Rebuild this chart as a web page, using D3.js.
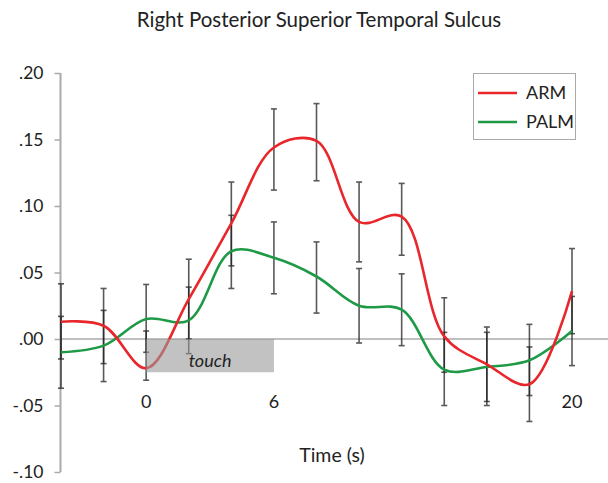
<!DOCTYPE html>
<html><head><meta charset="utf-8">
<script src="https://cdn.jsdelivr.net/npm/d3@7"></script>
<style>body{margin:0;background:#fff}svg{display:block}text{font-family:Lato,"Open Sans",sans-serif;fill:#222}</style>
</head><body><svg id="c" width="608" height="483"></svg>
<script>
const times = [-4,-2,0,2,4,6,8,10,12,14,16,18,20];
const arm   = [0.013,0.010,-0.022,0.030,0.087,0.144,0.149,0.088,0.092,0.002,-0.019,-0.034,0.036];
const armHi = [0.0415,0.038,0.006,0.060,0.118,0.173,0.177,0.118,0.117,0.031,0.009,-0.006,0.068];
const armLo = [-0.015,-0.0185,-0.031,0.000,0.055,0.112,0.119,0.058,0.063,-0.025,-0.047,-0.062,0.004];
const palm   = [-0.010,-0.005,0.015,0.014,0.066,0.061,0.047,0.025,0.022,-0.023,-0.021,-0.016,0.006];
const palmHi = [0.017,0.0215,0.041,0.039,0.093,0.088,0.073,0.053,0.049,0.005,0.005,0.011,0.032];
const palmLo = [-0.037,-0.032,-0.010,-0.011,0.038,0.034,0.0195,-0.003,-0.005,-0.050,-0.050,-0.0425,-0.020];
const yTicks = [0.20,0.15,0.10,0.05,0.00,-0.05,-0.10];
const xTicks = [0,6,20];
const touchRange = [0,6];
const touchDepth = -0.025;
const series = [
  {name:"ARM", color:"#e8262b", v:arm, hi:armHi, lo:armLo},
  {name:"PALM", color:"#1e9a47", v:palm, hi:palmHi, lo:palmLo}
];

const svg = d3.select("#c");
const x = d3.scaleLinear().domain([-4,20]).range([61,572]);
const y = d3.scaleLinear().domain([-0.1,0.2]).range([472,73]);
const fmt = v => { let s = d3.format(".2f")(Math.abs(v)).replace(/^0/,""); return (v<0?"-":"")+s; };

svg.append("text").attr("x",319).attr("y",27).attr("text-anchor","middle")
  .style("font-size","20.5px").text("Right Posterior Superior Temporal Sulcus");

// y axis
const ya = svg.append("g").attr("transform","translate(60.5,0)")
  .call(d3.axisLeft(y).tickValues(yTicks).tickSize(6).tickPadding(11).tickFormat(fmt));
ya.select(".domain").attr("stroke","#aaa").attr("stroke-width",2).attr("d",`M0,${y(0.2)}V${y(-0.1)}`);
ya.selectAll(".tick line").attr("stroke","#aaa").attr("stroke-width",1.5);
ya.selectAll(".tick text").style("font-size","17.5px").style("font-family","Lato,'Open Sans',sans-serif").attr("fill","#222");

// zero line
svg.append("line").attr("x1",60).attr("x2",608).attr("y1",y(0)).attr("y2",y(0))
  .attr("stroke","#aaa").attr("stroke-width",1.5);

// x labels
svg.selectAll(".xl").data(xTicks).enter().append("text").attr("class","xl")
  .attr("x",d=>x(d)).attr("y",408).attr("text-anchor","middle").style("font-size","18px").text(d=>d);
svg.append("text").attr("x",332).attr("y",462).attr("text-anchor","middle")
  .style("font-size","19.5px").text("Time (s)");

// error bars
series.forEach(s=>{
  const g = svg.append("g").attr("stroke","#222").attr("stroke-width",1.6).attr("opacity",0.75);
  times.forEach((t,i)=>{
    const xx = x(t);
    g.append("line").attr("x1",xx).attr("x2",xx).attr("y1",y(s.hi[i])).attr("y2",y(s.lo[i]));
    g.append("line").attr("x1",xx-3).attr("x2",xx+3).attr("y1",y(s.hi[i])).attr("y2",y(s.hi[i]));
    g.append("line").attr("x1",xx-3).attr("x2",xx+3).attr("y1",y(s.lo[i])).attr("y2",y(s.lo[i]));
  });
});

// lines
const line = d3.line().x((d,i)=>x(times[i])).y(d=>y(d)).curve(d3.curveCatmullRom.alpha(0.5));
[series[1],series[0]].forEach(s=>{
  svg.append("path").attr("d",line(s.v)).attr("fill","none").attr("stroke",s.color).attr("stroke-width",2.6);
});

// touch rectangle
svg.append("rect").attr("x",x(touchRange[0])).attr("y",y(0)).attr("width",x(touchRange[1])-x(touchRange[0]))
  .attr("height",y(touchDepth)-y(0)).attr("fill","#999").attr("opacity",0.6);
svg.append("text").attr("x",(x(touchRange[0])+x(touchRange[1]))/2).attr("y",367).attr("text-anchor","middle")
  .style("font-size","18px").style("font-style","italic").text("touch");

// legend
const lg = svg.append("g");
lg.append("rect").attr("x",473.5).attr("y",73.5).attr("width",102).attr("height",66)
  .attr("fill","#fff").attr("stroke","#aaa").attr("stroke-width",1);
series.forEach((s,i)=>{
  const yy = 93 + i*29;
  lg.append("line").attr("x1",478).attr("x2",517).attr("y1",yy).attr("y2",yy).attr("stroke",s.color).attr("stroke-width",2.6);
  lg.append("text").attr("x",526).attr("y",yy+6).style("font-size","18px").text(s.name);
});
</script></body></html>
